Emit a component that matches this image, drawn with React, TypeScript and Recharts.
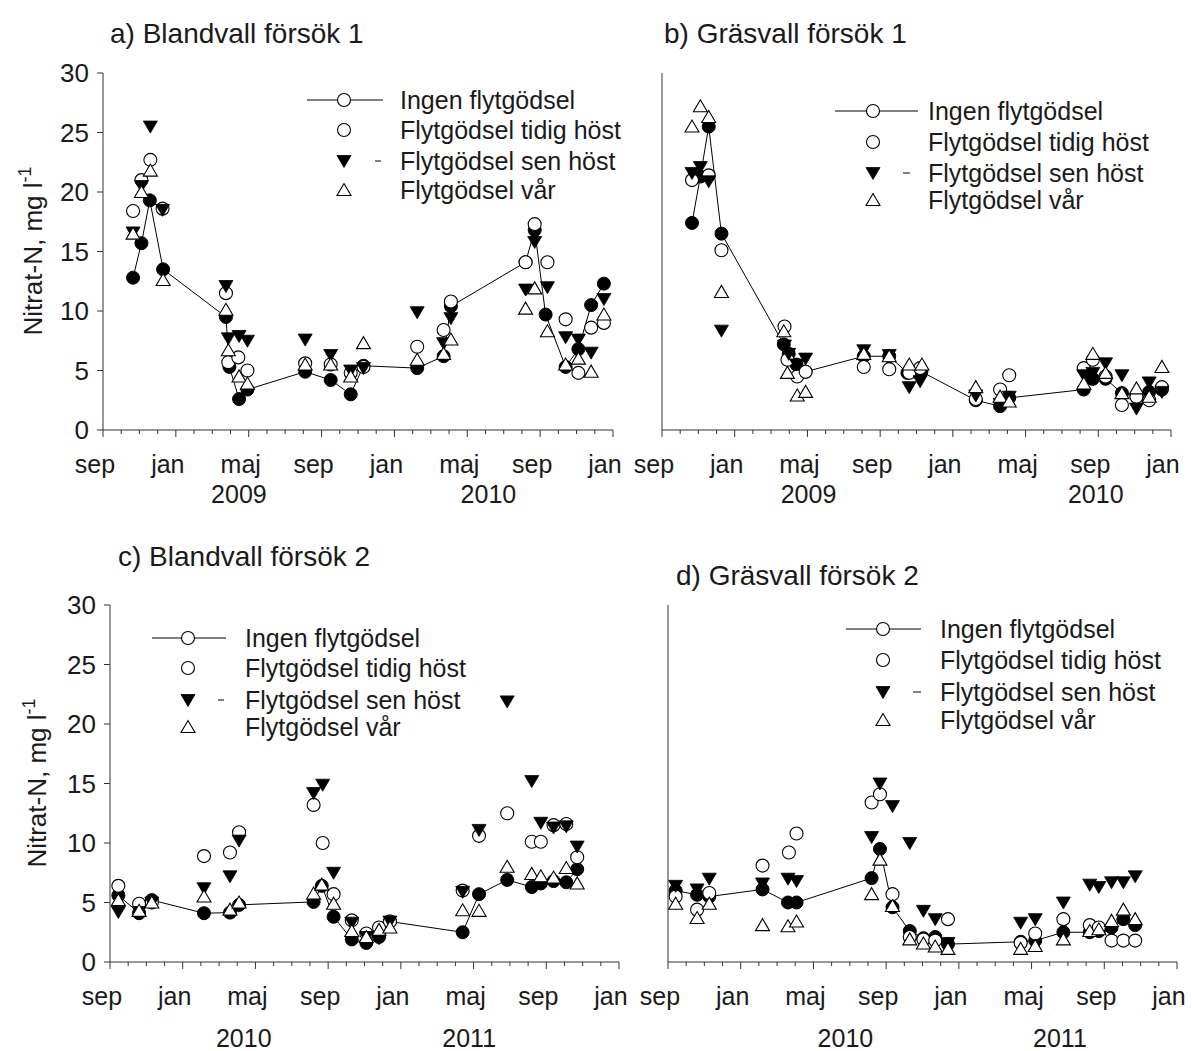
import React from "react";
import { ComposedChart, Scatter, XAxis, YAxis } from "recharts";

const FONT = '"Liberation Sans", Arial, Helvetica, sans-serif';
const INK = "#1a1a1a";
const AXIS = "#333";

// x = months after 1 September of the first season (0 = sep, 4 = jan, 8 = maj ...)
const monthLabels = ["sep", "jan", "maj", "sep", "jan", "maj", "sep", "jan"];
const monthTicks = Array.from({ length: 29 }, (_, i) => i);
const yTicks = [0, 5, 10, 15, 20, 25, 30];
const seriesNames = ["Ingen flytgödsel", "Flytgödsel tidig höst", "Flytgödsel sen höst", "Flytgödsel vår"];

// a) Blandvall försök 1 (2008-2010)
const aIngen = [[1.65, 12.8], [2.11, 15.7], [2.57, 19.3], [3.3, 13.5], [6.75, 9.5], [6.94, 5.3], [7.47, 2.6], [7.93, 3.4], [11.1, 4.9], [12.5, 4.2], [13.6, 3.0], [14.3, 5.4], [17.25, 5.2], [18.7, 6.2], [19.1, 10.4], [23.2, 14.1], [23.7, 16.8], [24.3, 9.7], [25.4, 5.3], [26.1, 6.8], [26.8, 10.5], [27.5, 12.3]];
const aTidig = [[1.65, 18.4], [2.11, 21.0], [2.6, 22.7], [3.27, 18.6], [6.75, 11.5], [6.88, 5.7], [7.43, 6.1], [7.93, 5.0], [11.1, 5.6], [12.5, 5.5], [13.6, 4.8], [14.3, 5.3], [17.25, 7.0], [18.7, 8.4], [19.1, 10.8], [23.2, 14.1], [23.7, 17.3], [24.4, 14.1], [25.4, 9.3], [26.1, 4.8], [26.8, 8.6], [27.5, 9.0]];
const aSen = [[1.65, 16.6], [2.11, 20.5], [2.6, 25.5], [3.27, 18.5], [6.75, 12.1], [6.88, 7.7], [7.47, 7.9], [7.93, 7.5], [11.1, 7.6], [12.5, 6.3], [13.6, 5.0], [14.3, 5.2], [17.25, 9.9], [18.7, 7.3], [19.1, 9.4], [23.2, 11.8], [23.7, 15.8], [24.4, 12.0], [25.4, 7.8], [26.1, 7.6], [26.8, 6.5], [27.5, 11.0]];
const aVar = [[1.65, 16.5], [2.11, 20.0], [2.6, 21.8], [3.3, 12.6], [6.75, 10.1], [6.88, 6.7], [7.47, 4.5], [7.93, 3.9], [11.1, 5.5], [12.5, 5.5], [13.6, 4.5], [14.3, 7.3], [17.25, 5.9], [18.7, 6.4], [19.1, 7.6], [23.2, 10.2], [23.7, 11.9], [24.4, 8.3], [25.4, 5.5], [26.1, 6.0], [26.8, 4.9], [27.5, 9.7]];

// b) Gräsvall försök 1 (2008-2010)
const bIngen = [[1.65, 17.4], [2.11, 21.3], [2.57, 25.5], [3.27, 16.5], [6.7, 7.2], [6.97, 6.4], [7.4, 5.5], [7.9, 4.9], [11.1, 6.2], [12.5, 6.2], [13.5, 4.8], [14.27, 4.9], [17.26, 2.5], [18.6, 2.0], [19.1, 2.7], [23.2, 3.4], [23.7, 4.3], [24.4, 4.3], [25.3, 3.1], [26.1, 2.8], [26.8, 3.2], [27.5, 3.4]];
const bTidig = [[1.65, 21.0], [2.57, 21.4], [3.27, 15.1], [6.74, 8.7], [6.9, 5.9], [7.44, 4.5], [7.9, 4.9], [11.1, 5.3], [12.5, 5.1], [13.6, 4.8], [14.2, 5.2], [17.26, 2.6], [18.6, 3.4], [19.1, 4.6], [23.2, 5.2], [23.7, 5.9], [24.4, 4.5], [25.3, 2.1], [26.1, 2.8], [26.8, 2.5], [27.5, 3.6]];
const bSen = [[1.65, 21.6], [2.11, 22.1], [2.57, 20.9], [3.27, 8.35], [6.74, 7.1], [6.97, 6.4], [7.4, 5.5], [7.9, 6.0], [11.1, 6.7], [12.5, 6.3], [13.6, 3.6], [14.2, 4.1], [17.26, 2.9], [18.6, 2.2], [19.1, 2.8], [23.2, 4.6], [23.7, 4.8], [24.4, 5.6], [25.3, 4.6], [26.1, 1.8], [26.8, 4.0], [27.5, 3.2]];
const bVar = [[1.65, 25.5], [2.11, 27.2], [2.57, 26.3], [3.27, 11.6], [6.7, 8.3], [6.9, 4.8], [7.44, 2.9], [7.9, 3.2], [11.1, 6.4], [12.5, 6.2], [13.6, 5.5], [14.3, 5.5], [17.26, 3.6], [18.6, 2.8], [19.1, 2.4], [23.2, 3.9], [23.7, 6.4], [24.4, 4.8], [25.3, 3.1], [26.1, 3.5], [26.8, 2.8], [27.5, 5.3]];

// c) Blandvall försök 2 (2009-2011)
const cIngen = [[0.46, 5.6], [1.6, 4.1], [2.3, 5.2], [5.17, 4.1], [6.6, 4.15], [7.1, 4.8], [11.2, 5.05], [11.65, 6.4], [12.3, 3.8], [13.3, 1.9], [14.1, 1.6], [14.8, 2.1], [15.4, 3.4], [19.4, 2.5], [20.3, 5.7], [21.85, 6.9], [23.2, 6.3], [23.7, 6.6], [24.4, 6.8], [25.1, 6.7], [25.7, 7.8]];
const cTidig = [[0.46, 6.4], [1.6, 4.9], [2.3, 5.0], [5.17, 8.9], [6.6, 9.2], [7.1, 10.9], [11.2, 13.2], [11.7, 10.0], [12.3, 5.7], [13.3, 3.5], [14.1, 2.4], [14.8, 2.9], [15.4, 3.4], [19.4, 6.0], [20.3, 10.6], [21.85, 12.5], [23.2, 10.1], [23.7, 10.1], [24.4, 11.5], [25.1, 11.6], [25.7, 8.8]];
const cSen = [[0.46, 4.2], [1.6, 4.2], [2.3, 5.0], [5.17, 6.2], [6.6, 7.2], [7.1, 10.2], [11.2, 14.2], [11.7, 14.9], [12.3, 7.5], [13.3, 3.3], [14.1, 2.1], [14.8, 2.0], [15.4, 3.4], [19.4, 5.9], [20.3, 11.1], [21.85, 21.9], [23.2, 15.2], [23.7, 11.7], [24.4, 11.3], [25.1, 11.4], [25.7, 9.7]];
const cVar = [[0.46, 5.2], [1.6, 4.3], [2.3, 5.0], [5.17, 5.5], [6.6, 4.4], [7.1, 5.0], [11.2, 5.75], [11.65, 6.5], [12.3, 4.9], [13.3, 2.6], [14.1, 2.1], [14.8, 2.7], [15.4, 2.9], [19.4, 4.35], [20.3, 4.3], [21.85, 8.0], [23.2, 7.4], [23.7, 7.2], [24.4, 7.1], [25.1, 7.9], [25.7, 6.6]];

// d) Gräsvall försök 2 (2009-2011)
const dIngen = [[0.42, 6.0], [1.6, 5.65], [2.27, 5.5], [5.2, 6.1], [6.6, 5.0], [7.07, 5.0], [11.2, 7.05], [11.66, 9.5], [12.35, 4.6], [13.3, 2.6], [14.05, 2.0], [14.7, 2.1], [15.4, 1.5], [19.4, 1.7], [20.2, 1.8], [21.75, 2.5], [23.2, 2.5], [23.7, 2.6], [24.4, 2.9], [25.05, 3.6], [25.7, 3.1]];
const dTidig = [[0.42, 5.5], [1.6, 4.4], [2.27, 5.8], [5.2, 8.1], [6.65, 9.2], [7.07, 10.8], [11.2, 13.4], [11.66, 14.1], [12.35, 5.7], [13.3, 2.1], [14.05, 1.9], [14.7, 1.8], [15.4, 3.6], [19.4, 1.6], [20.2, 2.4], [21.75, 3.6], [23.2, 3.1], [23.7, 2.9], [24.4, 1.8], [25.05, 1.8], [25.7, 1.8]];
const dSen = [[0.42, 6.4], [1.6, 6.1], [2.27, 7.0], [5.2, 6.6], [6.6, 7.0], [7.07, 6.8], [11.2, 10.5], [11.66, 15.0], [12.35, 13.1], [13.3, 10.0], [14.05, 4.3], [14.7, 3.6], [15.4, 1.6], [19.4, 3.3], [20.2, 3.6], [21.75, 5.0], [23.2, 6.5], [23.7, 6.3], [24.4, 6.7], [25.05, 6.7], [25.7, 7.2]];
const dVar = [[0.42, 4.9], [1.6, 3.7], [2.27, 4.9], [5.2, 3.1], [6.6, 3.0], [7.07, 3.4], [11.2, 5.7], [11.66, 8.6], [12.35, 4.7], [13.3, 1.9], [14.05, 1.55], [14.7, 1.3], [15.4, 1.1], [19.4, 1.1], [20.2, 1.35], [21.75, 1.9], [23.2, 2.6], [23.7, 2.75], [24.4, 3.45], [25.05, 4.4], [25.7, 3.6]];

// year labels (position in months, label)
const aYears: [number, string][] = [[7.9, "2009"], [21.6, "2010"]];
const bYears: [number, string][] = [[8.5, "2009"], [24.3, "2010"]];
const cYears: [number, string][] = [[7.8, "2010"], [20.2, "2011"]];
const dYears: [number, string][] = [[10.2, "2010"], [22.0, "2011"]];

const toPts = (arr: number[][]) => arr.map(([m, v]) => ({ m, v }));

// markers
const R = 6.5;
const FilledCircle = (p: any) =>
  p.cx == null ? <g /> : <circle cx={p.cx} cy={p.cy} r={R} fill="#000" stroke="#000" strokeWidth={1} />;
const OpenCircle = (p: any) =>
  p.cx == null ? <g /> : <circle cx={p.cx} cy={p.cy} r={R} fill="#fff" stroke="#000" strokeWidth={1.1} />;
const DownTri = (p: any) =>
  p.cx == null ? <g /> : (
    <path d={`M${p.cx - 7},${p.cy - 5.5} L${p.cx + 7},${p.cy - 5.5} L${p.cx},${p.cy + 6.5} Z`} fill="#000" stroke="#000" strokeWidth={0.8} />
  );
const UpTri = (p: any) =>
  p.cx == null ? <g /> : (
    <path d={`M${p.cx - 7},${p.cy + 5.5} L${p.cx + 7},${p.cy + 5.5} L${p.cx},${p.cy - 6.5} Z`} fill="#fff" stroke="#000" strokeWidth={1.1} />
  );

function MonthTick(props: any) {
  const { x, y, payload } = props;
  const v = payload.value;
  const major = v % 4 === 0;
  return (
    <g>
      <line x1={x} y1={y} x2={x} y2={y + (major ? 7 : 4)} stroke={AXIS} strokeWidth={1} />
      {major && (
        <text x={x - 8} y={y + 43} textAnchor="middle" fontSize={25} fill={INK} fontFamily={FONT}>
          {monthLabels[v / 4]}
        </text>
      )}
    </g>
  );
}

function YearTick(props: any) {
  const { x, y, index, years, dy } = props;
  return (
    <text x={x - 8} y={y + dy} textAnchor="middle" fontSize={25} fill={INK} fontFamily={FONT}>
      {years[index][1]}
    </text>
  );
}

interface PanelProps {
  left: number;
  top: number;
  width: number;
  height: number;
  margin: { top: number; right: number; bottom: number; left: number };
  yWidth: number;
  showY: boolean;
  years: [number, string][];
  yearDy: number;
  series: number[][][];
}

function Panel({ left, top, width, height, margin, yWidth, showY, years, yearDy, series }: PanelProps) {
  const [ingen, tidig, sen, vaar] = series;
  return (
    <div style={{ position: "absolute", left, top, width, height }}>
      <ComposedChart width={width} height={height} margin={margin}>
        <XAxis
          type="number"
          dataKey="m"
          domain={[0, 28]}
          allowDataOverflow
          ticks={monthTicks}
          interval={0}
          tickSize={0}
          tickMargin={0}
          tickLine={false}
          axisLine={{ stroke: AXIS, strokeWidth: 1 }}
          tick={(p: any) => <MonthTick {...p} />}
          height={44}
        />
        <XAxis
          xAxisId="yr"
          type="number"
          dataKey="m"
          domain={[0, 28]}
          allowDataOverflow
          ticks={years.map((d) => d[0])}
          interval={0}
          tickSize={0}
          tickMargin={0}
          tickLine={false}
          axisLine={false}
          tick={(p: any) => <YearTick {...p} years={years} dy={yearDy} />}
          height={45}
        />
        <YAxis
          type="number"
          dataKey="v"
          domain={[0, 30]}
          allowDataOverflow
          ticks={yTicks}
          interval={0}
          width={yWidth}
          tickSize={6}
          tickMargin={8}
          axisLine={{ stroke: AXIS, strokeWidth: 1 }}
          tickLine={{ stroke: AXIS, strokeWidth: 1 }}
          tick={showY ? { fontSize: 26, fill: INK, fontFamily: FONT } : false}
        />
        <Scatter
          name={seriesNames[0]}
          data={toPts(ingen)}
          line={{ stroke: "#000", strokeWidth: 1 }}
          shape={FilledCircle}
          isAnimationActive={false}
        />
        <Scatter name={seriesNames[1]} data={toPts(tidig)} shape={OpenCircle} isAnimationActive={false} />
        <Scatter name={seriesNames[2]} data={toPts(sen)} shape={DownTri} isAnimationActive={false} />
        <Scatter name={seriesNames[3]} data={toPts(vaar)} shape={UpTri} isAnimationActive={false} />
      </ComposedChart>
    </div>
  );
}

interface LegendSpec {
  lineX1: number;
  lineX2: number;
  markX: number;
  textX: number;
  rows: number[];
  dashX1: number;
  dashX2: number;
}

function LegendBox({ lineX1, lineX2, markX, textX, rows, dashX1, dashX2 }: LegendSpec) {
  return (
    <g>
      <line x1={lineX1} y1={rows[0]} x2={lineX2} y2={rows[0]} stroke="#000" strokeWidth={1} />
      <OpenCircle cx={markX} cy={rows[0]} />
      <OpenCircle cx={markX} cy={rows[1]} />
      <DownTri cx={markX} cy={rows[2]} />
      <line x1={dashX1} y1={rows[2]} x2={dashX2} y2={rows[2]} stroke="#000" strokeWidth={1} />
      <UpTri cx={markX} cy={rows[3]} />
      {seriesNames.map((n, i) => (
        <text key={n} x={textX} y={rows[i]} dominantBaseline="central" fontSize={25} fill={INK} fontFamily={FONT}>
          {n}
        </text>
      ))}
    </g>
  );
}

function YTitle({ x, y }: { x: number; y: number }) {
  return (
    <text transform={`translate(${x},${y}) rotate(-90)`} textAnchor="middle" fontSize={26} fill={INK} fontFamily={FONT}>
      Nitrat-N, mg l
      <tspan dy={-11} fontSize={18}>-1</tspan>
    </text>
  );
}

export default function App() {
  return (
    <div style={{ position: "absolute", left: 0, top: 0, width: 1192, height: 1051, background: "#fff", overflow: "hidden" }}>
      <Panel
        left={0}
        top={0}
        width={625}
        height={520}
        margin={{ top: 73, right: 12, bottom: 1, left: 43 }}
        yWidth={60}
        showY
        years={aYears}
        yearDy={29}
        series={[aIngen, aTidig, aSen, aVar]}
      />
      <Panel
        left={600}
        top={0}
        width={592}
        height={520}
        margin={{ top: 73, right: 21, bottom: 1, left: 42 }}
        yWidth={20}
        showY={false}
        years={bYears}
        yearDy={29}
        series={[bIngen, bTidig, bSen, bVar]}
      />
      <Panel
        left={0}
        top={530}
        width={630}
        height={521}
        margin={{ top: 75, right: 11, bottom: 0, left: 50 }}
        yWidth={60}
        showY
        years={cYears}
        yearDy={41}
        series={[cIngen, cTidig, cSen, cVar]}
      />
      <Panel
        left={600}
        top={530}
        width={592}
        height={521}
        margin={{ top: 75, right: 15, bottom: 0, left: 48 }}
        yWidth={20}
        showY={false}
        years={dYears}
        yearDy={41}
        series={[dIngen, dTidig, dSen, dVar]}
      />
      <svg width={1192} height={1051} style={{ position: "absolute", left: 0, top: 0, pointerEvents: "none" }}>
        <g fontFamily={FONT} fontSize={28} fill={INK}>
          <text x={110} y={43}>a) Blandvall försök 1</text>
          <text x={664} y={43}>b) Gräsvall försök 1</text>
          <text x={118} y={566}>c) Blandvall försök 2</text>
          <text x={676} y={585}>d) Gräsvall försök 2</text>
        </g>
        <YTitle x={42} y={251} />
        <YTitle x={46} y={783} />
        <LegendBox lineX1={307} lineX2={383} markX={344} textX={400} rows={[100, 130, 161, 190]} dashX1={375} dashX2={381} />
        <LegendBox lineX1={835} lineX2={918} markX={873} textX={928} rows={[111, 142, 173, 200]} dashX1={903} dashX2={910} />
        <LegendBox lineX1={152} lineX2={226} markX={188} textX={245} rows={[638, 668, 700, 727]} dashX1={218} dashX2={224} />
        <LegendBox lineX1={846} lineX2={921} markX={883} textX={940} rows={[629, 660, 692, 720]} dashX1={913} dashX2={921} />
      </svg>
    </div>
  );
}
